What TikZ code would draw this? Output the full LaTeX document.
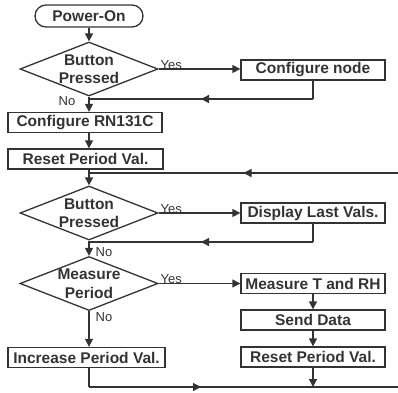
\documentclass[tikz,border=0pt]{standalone}
\usepackage{fontspec}
\setmainfont{Liberation Sans}
\usetikzlibrary{shapes.geometric,arrows.meta,decorations.markings}
\definecolor{ink}{HTML}{333333}
\begin{document}
\begin{tikzpicture}[x=1pt,y=-1pt,line width=1.3pt,draw=ink,
every node/.style={text=ink,inner sep=0pt},
proc/.style={draw,minimum height=20pt,font=\bfseries\fontsize{15.5}{18.5}\selectfont},
term/.style={proc,minimum width=108pt,minimum height=22pt,rounded corners=11pt},
decision/.style={draw,diamond,minimum width=138pt,minimum height=54pt},
dtext/.style={align=center,font=\bfseries\fontsize{15.5}{18.5}\selectfont},
lbl/.style={font=\fontsize{13}{15}\selectfont},
arr/.style={-{Triangle[length=8pt,width=8pt]}},
mid/.style={decoration={markings,mark=at position 0.5 with {\arrow{Triangle[length=8pt,width=8pt]}}},postaction={decorate}}]
\useasboundingbox (0,0) rectangle (398,392);
\node[term]at(89,16)(pwr){Power-On};
\node[decision,label={[dtext]center:{Button\\Pressed}}]at(89,69)(btna){};
\node[proc,minimum width=144pt]at(313,70)(cfgnode){Configure node};
\node[proc,minimum width=154pt]at(85,122.5)(cfgrn){Configure RN131C};
\node[proc,minimum width=155pt]at(85.5,159)(rsta){Reset Period Val.};
\node[decision,label={[dtext]center:{Button\\Pressed}}]at(89,213)(btnb){};
\node[proc,minimum width=144pt]at(313,213)(disp){Display Last Vals.};
\node[decision,label={[dtext]center:{Measure\\Period}}]at(89,283.5)(meas){};
\node[proc,minimum width=144pt]at(313,283.5)(mtrh){Measure T and RH};
\node[proc,minimum width=144pt]at(313,320)(send){Send Data};
\node[proc,minimum width=144pt]at(313,357)(rstb){Reset Period Val.};
\node[proc,minimum width=157pt]at(86.5,357.5)(incr){Increase Period Val.};
% yes / no labels
\node[lbl,anchor=south west]at(160,70)(yesa){Yes};
\node[lbl,anchor=south west]at(160,214)(yesb){Yes};
\node[lbl,anchor=south west]at(160,284)(yesc){Yes};
\node[lbl]at(67,101)(noa){No};
\node[lbl]at(104,252)(nob){No};
\node[lbl]at(104,317)(noc){No};
% junctions and loose ends
\coordinate (ja) at (89,99);
\coordinate (jb) at (89,173);
\coordinate (jc) at (89,242);
\coordinate (jd) at (89,387);
\coordinate (je) at (313,387);
\coordinate (enda) at (398,173);
\coordinate (endb) at (398,387);
\draw[arr] (pwr)--(btna);
\draw[arr] (btna.south)--(cfgrn.north-|btna.south);
\draw[arr] (btna.east)--(cfgnode.west|-btna.east);
\draw (cfgnode.south)--(cfgnode.south|-ja);
\draw[mid] (cfgnode.south|-ja)--(ja);
\draw[arr] (cfgrn.south-|btna.south)--(rsta.north-|btna.south);
\draw[arr] (rsta.south-|btna.south)--(btnb.north);
\draw[mid] (enda)--(jb);
\draw[arr] (btnb.east)--(disp.west|-btnb.east);
\draw (disp.south)--(disp.south|-jc);
\draw[mid] (disp.south|-jc)--(jc);
\draw[arr] (btnb.south)--(meas.north);
\draw[arr] (meas.east)--(mtrh.west|-meas.east);
\draw[arr] (mtrh)--(send);
\draw[arr] (send)--(rstb);
\draw[arr] (rstb)--(je);
\draw[arr] (meas.south)--(incr.north-|meas.south);
\draw (incr.south-|meas.south)--(jd);
\draw[mid] (jd)--(je);
\draw (je)--(endb);
\end{tikzpicture}
\end{document}
